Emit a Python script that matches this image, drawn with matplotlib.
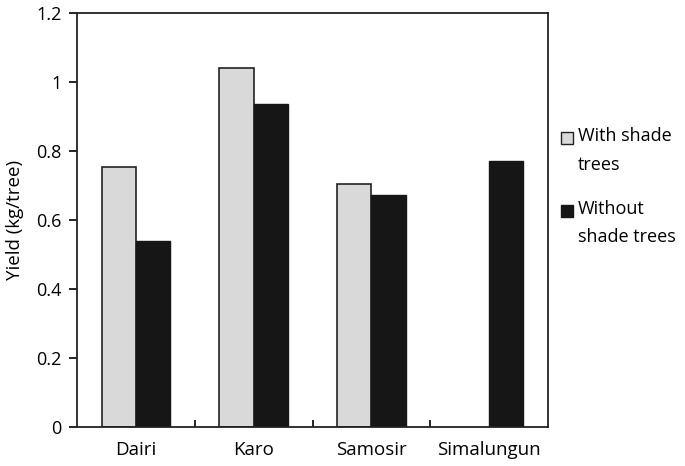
import numpy as np
import matplotlib.pyplot as plt
from matplotlib.patches import Rectangle

# values
regions = ['Dairi', 'Karo', 'Samosir', 'Simalungun']
with_shade = [0.755, 1.04, 0.703, 0.0]
without_shade = [0.54, 0.935, 0.672, 0.77]
yticks = [0, 0.2, 0.4, 0.6, 0.8, 1.0, 1.2]
ytick_labels = ['0', '0.2', '0.4', '0.6', '0.8', '1', '1.2']
legend_labels = ['With shade\ntrees', 'Without\nshade trees']

plt.rcParams['font.family'] = ['Open Sans', 'DejaVu Sans']

W, H = 685, 466
fig = plt.figure(figsize=(W / 100, H / 100), dpi=100)
ax = fig.add_axes([77 / W, 1 - 427 / H, (548 - 77) / W, (427 - 13) / H])

x = np.arange(len(regions))
w = 0.29
light = '#d9d9d9'
dark = '#161616'
edge = '#222222'

ax.bar(x[:3] - w / 2, with_shade[:3], w, color=light, edgecolor=edge, linewidth=1.2)
ax.bar(x + w / 2, without_shade, w, color=dark, edgecolor=dark, linewidth=1.0)

ax.set_xlim(-0.5, 3.5)
ax.set_ylim(0, 1.2)
ax.set_yticks(yticks)
ax.set_yticklabels(ytick_labels, fontsize=13)

# category labels centred, small ticks on the category boundaries
ax.set_xticks(x)
ax.set_xticklabels(regions, fontsize=13.5)
ax.tick_params(axis='x', which='major', length=0, pad=10)
ax.set_xticks([0.5, 1.5, 2.5], minor=True)
ax.tick_params(axis='x', which='minor', direction='in', length=5, width=1.2)
ax.tick_params(axis='y', direction='out', length=6, width=1.2, pad=5)

for s in ax.spines.values():
    s.set_linewidth(1.3)
    s.set_color(edge)

ax.set_ylabel('Yield (kg/tree)', fontsize=13.5, labelpad=9)

# legend drawn by hand so the square sits beside the first line
legend_colors = [(light, edge), (dark, dark)]
legend_tops = [127, 200]
for (fc, ec), lab, top in zip(legend_colors, legend_labels, legend_tops):
    fig.patches.append(Rectangle((561 / W, 1 - (top + 17) / H), 12 / W, 12 / H,
                                 transform=fig.transFigure, facecolor=fc,
                                 edgecolor=ec, linewidth=1.0))
    fig.text(578 / W, 1 - top / H, lab, fontsize=13, va='top', ha='left',
             linespacing=1.75)

fig.savefig('out.png', dpi=100)
